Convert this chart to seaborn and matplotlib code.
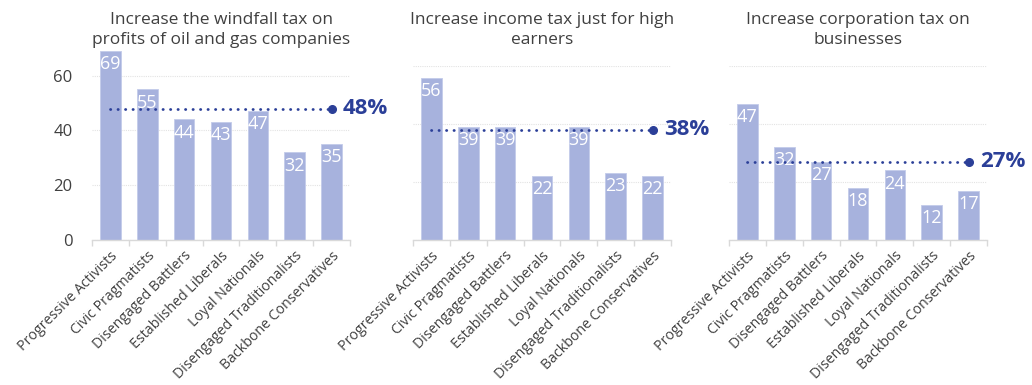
import matplotlib
matplotlib.use("Agg")
import matplotlib.pyplot as plt
import seaborn as sns
import pandas as pd
import numpy as np

segments = ["Progressive Activists", "Civic Pragmatists", "Disengaged Battlers",
            "Established Liberals", "Loyal Nationals", "Disengaged Traditionalists",
            "Backbone Conservatives"]

titles = ["Increase the windfall tax on\nprofits of oil and gas companies",
          "Increase income tax just for high\nearners",
          "Increase corporation tax on\nbusinesses"]

windfall_tax = [69, 55, 44, 43, 47, 32, 35]
income_tax = [56, 39, 39, 22, 39, 23, 22]
corporation_tax = [47, 32, 27, 18, 24, 12, 17]

averages = [48, 38, 27]

sns.set_theme(style="white")
plt.rcParams["font.family"] = ["Open Sans", "DejaVu Sans"]

BAR = "#a7b2dd"
NAVY = "#2b3f98"
TEXT = "#404040"
GRID = "#e3e3e3"

fig = plt.figure(figsize=(10.32, 3.85), dpi=100)

W, H = 1032, 385
base_px = 240
panels = [
    dict(left=92, top=51, ymax=69, values=windfall_tax, yticks=True),
    dict(left=413, top=66, ymax=60, values=income_tax, yticks=False),
    dict(left=729, top=66, ymax=60, values=corporation_tax, yticks=False),
]
width_px = 258

for i, p in enumerate(panels):
    ax = fig.add_axes([p["left"] / W, 1 - base_px / H, width_px / W, (base_px - p["top"]) / H])
    df = pd.DataFrame({"segment": segments, "value": p["values"]})
    sns.barplot(data=df, x="segment", y="value", ax=ax, color=BAR, width=0.56,
                saturation=1, edgecolor="#c3cbea", linewidth=0.6)
    ax.set_xlim(-0.5, len(segments) - 0.5)
    ax.set_ylim(0, p["ymax"])
    ax.set_xlabel("")
    ax.set_ylabel("")

    # value labels inside the top of each bar
    for bar, v in zip(ax.patches, p["values"]):
        ax.annotate(f"{v}", (bar.get_x() + bar.get_width() / 2, v),
                    xytext=(0, -3), textcoords="offset points",
                    ha="center", va="top", color="white", fontsize=13)

    # average line with end marker and label
    avg = averages[i]
    ax.plot([0, len(segments) - 1], [avg, avg], color=NAVY, lw=2.0,
            linestyle=(0, (0.1, 2.6)), dash_capstyle="round", zorder=4)
    ax.plot([len(segments) - 1], [avg], marker="o", markersize=5.5, color=NAVY, zorder=5)
    ax.annotate(f"{avg}%", (len(segments) - 1, avg), xytext=(8, 0),
                textcoords="offset points", ha="left", va="center",
                color=NAVY, fontsize=16, fontweight="bold", annotation_clip=False)

    # grid and spines
    ax.set_yticks([0, 20, 40, 60])
    ax.yaxis.grid(True, color=GRID, lw=0.8, linestyle=(0, (1, 1)))
    ax.set_axisbelow(True)
    for s in ["top", "right", "left"]:
        ax.spines[s].set_visible(False)
    ax.spines["bottom"].set_color("#d9d9d9")
    ax.spines["bottom"].set_linewidth(1.0)

    if p["yticks"]:
        ax.tick_params(axis="y", length=0, pad=14, labelsize=12, labelcolor=TEXT)
    else:
        ax.tick_params(axis="y", left=False, labelleft=False)

    ax.set_xticks(range(len(segments)))
    ax.set_xticklabels(segments, rotation=45, ha="right", rotation_mode="anchor",
                       fontsize=10.2, color=TEXT)
    ax.tick_params(axis="x", which="major", length=0, pad=6)
    ax.set_xticks(np.arange(-0.5, len(segments), 1.0), minor=True)
    ax.tick_params(axis="x", which="minor", length=4, width=1.0, color="#d9d9d9", bottom=True)

    cx = (p["left"] + width_px / 2) / W
    fig.text(cx, 1 - 12 / H, titles[i], ha="center", va="top", fontsize=12.5,
             color=TEXT, linespacing=1.35)

fig.savefig("out.png", dpi=100)
